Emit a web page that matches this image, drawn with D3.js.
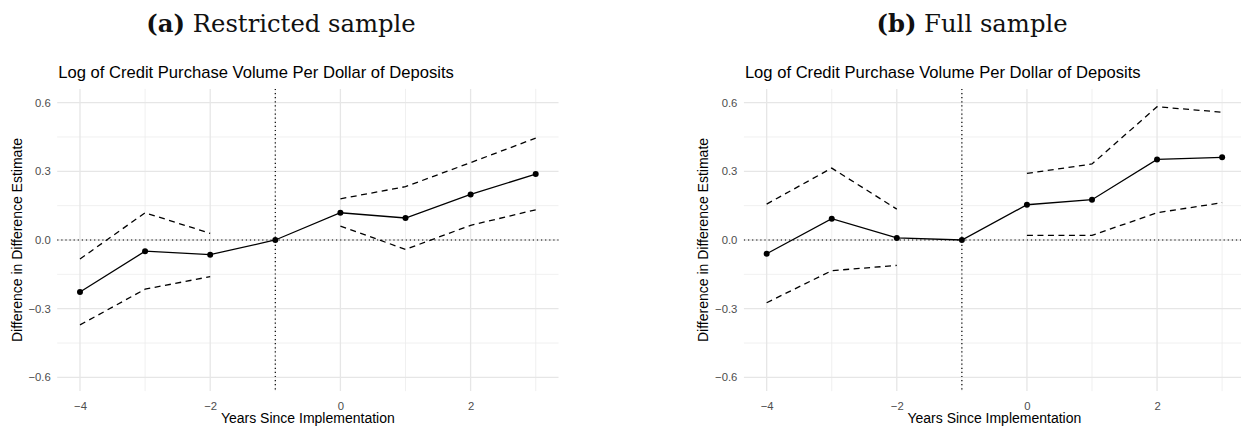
<!DOCTYPE html>
<html>
<head>
<meta charset="utf-8">
<script src="https://cdn.jsdelivr.net/npm/d3@7"></script>
<style>
  html, body { margin: 0; padding: 0; background: #fff; }
  svg { display: block; }
</style>
</head>
<body>
<svg id="chart" width="1241" height="426"></svg>
<script>
// Event-study estimates, years relative to implementation
const years = [-4, -3, -2, -1, 0, 1, 2, 3];

// (a) Restricted sample
const restrictedEst   = [-0.227, -0.049, -0.064, 0, 0.119, 0.096, 0.199, 0.288];
const restrictedUpper = [-0.083, 0.119, 0.029, null, 0.180, 0.233, 0.338, 0.445];
const restrictedLower = [-0.371, -0.215, -0.160, null, 0.061, -0.041, 0.064, 0.132];

// (b) Full sample
const fullEst   = [-0.060, 0.093, 0.009, 0, 0.154, 0.176, 0.352, 0.361];
const fullUpper = [0.157, 0.314, 0.135, null, 0.291, 0.332, 0.582, 0.558];
const fullLower = [-0.274, -0.134, -0.111, null, 0.020, 0.020, 0.119, 0.163];

const xMajorTicks = [-4, -2, 0, 2];
const xMinorTicks = [-3, -1, 1, 3];
const yMajorTicks = [-0.6, -0.3, 0, 0.3, 0.6];
const yMinorTicks = [-0.45, -0.15, 0.15, 0.45];

const panelTitles = ["Restricted sample", "Full sample"];
const panelLetters = ["(a)", "(b)"];
const plotTitle = "Log of Credit Purchase Volume Per Dollar of Deposits";
const xTitle = "Years Since Implementation";
const yTitle = "Difference in Difference Estimate";

const svg = d3.select("#chart");
const sans = "'Liberation Sans', Arial, Helvetica, sans-serif";
const serif = "'DejaVu Serif', 'Liberation Serif', serif";
const fmtY = v => d3.format(".1f")(v).replace("-", "\u2212");
const fmtX = v => String(v).replace("-", "\u2212");

const panels = [
  { left: 57.2,  right: 558.5, titleX: 281, est: restrictedEst, up: restrictedUpper, lo: restrictedLower },
  { left: 743.9, right: 1244.9, titleX: 972, est: fullEst, up: fullUpper, lo: fullLower }
];

panels.forEach((p, i) => {
  const g = svg.append("g");
  const x = d3.scaleLinear().domain([-4.35, 3.35]).range([p.left, p.right]);
  const y = d3.scaleLinear().domain([-0.66, 0.66]).range([391.1, 88.9]);

  // caption
  const cap = g.append("text")
    .attr("x", p.titleX).attr("y", 31.7)
    .attr("text-anchor", "middle")
    .attr("font-family", serif).attr("font-size", 24.3)
    .attr("fill", "#111");
  cap.append("tspan").attr("font-weight", "bold").text(panelLetters[i]);
  cap.append("tspan").text(" " + panelTitles[i]);

  // minor grid
  g.selectAll(".vminor").data(xMinorTicks).join("line")
    .attr("x1", d => x(d)).attr("x2", d => x(d))
    .attr("y1", y.range()[1]).attr("y2", y.range()[0])
    .attr("stroke", "#ececec").attr("stroke-width", 0.8);
  g.selectAll(".hminor").data(yMinorTicks).join("line")
    .attr("y1", d => y(d)).attr("y2", d => y(d))
    .attr("x1", p.left).attr("x2", p.right)
    .attr("stroke", "#ececec").attr("stroke-width", 0.8);
  // major grid
  g.selectAll(".vmajor").data(xMajorTicks).join("line")
    .attr("x1", d => x(d)).attr("x2", d => x(d))
    .attr("y1", y.range()[1]).attr("y2", y.range()[0])
    .attr("stroke", "#e6e6e6").attr("stroke-width", 1.3);
  g.selectAll(".hmajor").data(yMajorTicks).join("line")
    .attr("y1", d => y(d)).attr("y2", d => y(d))
    .attr("x1", p.left).attr("x2", p.right)
    .attr("stroke", "#e6e6e6").attr("stroke-width", 1.3);

  // reference lines
  g.append("line")
    .attr("x1", p.left).attr("x2", p.right)
    .attr("y1", y(0)).attr("y2", y(0))
    .attr("stroke", "#000").attr("stroke-width", 1.2).attr("stroke-dasharray", "1.2,2.9");
  g.append("line")
    .attr("x1", x(-1)).attr("x2", x(-1))
    .attr("y1", y.range()[1]).attr("y2", y.range()[0])
    .attr("stroke", "#000").attr("stroke-width", 1.2).attr("stroke-dasharray", "1.2,2.9");

  // confidence bounds
  const band = d3.line()
    .defined(d => d[1] !== null)
    .x(d => x(d[0])).y(d => y(d[1]));
  [p.up, p.lo].forEach(arr => {
    g.append("path")
      .datum(years.map((yr, k) => [yr, arr[k]]))
      .attr("d", band)
      .attr("fill", "none").attr("stroke", "#000")
      .attr("stroke-width", 1.3).attr("stroke-dasharray", "6,4.5");
  });

  // point estimates
  const pts = years.map((yr, k) => [yr, p.est[k]]);
  g.append("path").datum(pts)
    .attr("d", d3.line().x(d => x(d[0])).y(d => y(d[1])))
    .attr("fill", "none").attr("stroke", "#000").attr("stroke-width", 1.3);
  g.selectAll(".pt").data(pts).join("circle")
    .attr("cx", d => x(d[0])).attr("cy", d => y(d[1])).attr("r", 3)
    .attr("fill", "#000");

  // axes (labels only, no domain or ticks)
  const xAxis = g.append("g").attr("transform", `translate(0,${y.range()[0]})`)
    .call(d3.axisBottom(x).tickValues(xMajorTicks).tickFormat(fmtX).tickSize(0).tickPadding(11));
  const yAxis = g.append("g").attr("transform", `translate(${p.left},0)`)
    .call(d3.axisLeft(y).tickValues(yMajorTicks).tickFormat(fmtY).tickSize(0).tickPadding(6.5));
  [xAxis, yAxis].forEach(a => {
    a.select(".domain").remove();
    a.selectAll("text").attr("font-family", sans).attr("font-size", 11.3).attr("fill", "#4d4d4d");
  });

  // plot title
  g.append("text")
    .attr("x", p.left + 1).attr("y", 78.3)
    .attr("font-family", sans).attr("font-size", 16.6).attr("fill", "#000")
    .text(plotTitle);

  // axis titles
  g.append("text")
    .attr("x", (p.left + p.right) / 2).attr("y", 423)
    .attr("text-anchor", "middle")
    .attr("font-family", sans).attr("font-size", 14).attr("fill", "#000")
    .text(xTitle);
  g.append("text")
    .attr("transform", `translate(${x(-4) - 58.3},${y(0)}) rotate(-90)`)
    .attr("text-anchor", "middle")
    .attr("font-family", sans).attr("font-size", 14).attr("fill", "#000")
    .text(yTitle);
});
</script>
</body>
</html>
